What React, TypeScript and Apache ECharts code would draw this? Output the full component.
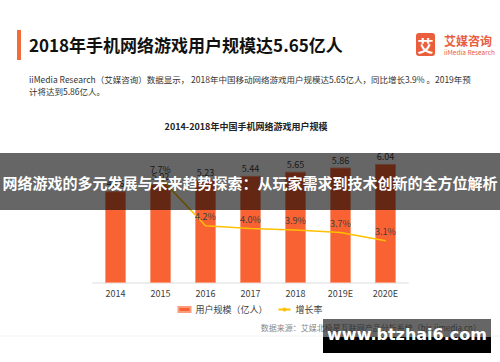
import React, { useEffect, useRef } from "react";
import * as echarts from "echarts";

const years = ["2014", "2015", "2016", "2017", "2018", "2019E", "2020E"];
const users = [4.66, 5.02, 5.23, 5.44, 5.65, 5.86, 6.04];
const growth = [null, 7.7, 4.2, 4.0, 3.9, 3.7, 3.1];
const growthLabels = ["", "7.7%", "4.2%", "4.0%", "3.9%", "3.7%", "3.1%"];

const FONT = "'Noto Sans CJK SC', 'Noto Sans', sans-serif";

export default function App() {
  const ref = useRef<HTMLDivElement>(null);
  useEffect(() => {
    if (!ref.current) return;
    const chart = echarts.init(ref.current, null, { renderer: "svg" });
    chart.setOption({
      animation: false,
      backgroundColor: "#ffffff",
      textStyle: { fontFamily: FONT },
      grid: { left: 93, right: 92, top: 140, bottom: 79 },
      legend: {
        top: 300,
        left: "center",
        itemWidth: 12,
        itemHeight: 5,
        itemGap: 10,
        textStyle: { fontSize: 9, color: "#404040", fontFamily: FONT },
        data: [
          { name: "用户规模（亿人）", icon: "rect" },
          { name: "增长率" },
        ],
      },
      xAxis: {
        type: "category",
        data: years,
        axisLine: { lineStyle: { color: "#eeeeee", width: 2 } },
        axisTick: { show: false },
        axisLabel: { fontSize: 9, color: "#404040", margin: 6, fontFamily: FONT },
      },
      yAxis: [
        { type: "value", min: 0, max: 7.26, show: false, splitLine: { show: false } },
        { type: "value", min: 0, max: 10.5, show: false, splitLine: { show: false } },
      ],
      series: [
        {
          name: "用户规模（亿人）",
          type: "bar",
          data: users,
          barWidth: 21,
          itemStyle: { color: "#F96232", borderColor: "#FA9B7C", borderWidth: 1 },
          label: {
            show: true,
            position: "top",
            distance: 3,
            fontSize: 9,
            color: "#404040",
            formatter: (p: any) => p.value.toFixed(2),
          },
        },
        {
          name: "增长率",
          type: "line",
          yAxisIndex: 1,
          data: growth,
          symbol: "circle",
          symbolSize: 1,
          showSymbol: true,
          lineStyle: { color: "#FFC000", width: 1.5 },
          itemStyle: { color: "#FFC000" },
          label: {
            show: true,
            position: "top",
            distance: 4,
            fontSize: 9,
            color: "#404040",
            formatter: (p: any) => growthLabels[p.dataIndex],
          },
        },
      ],
      graphic: [
        { type: "rect", shape: { x: 17, y: 30, width: 4, height: 30 }, style: { fill: "#F26B3A" } },
        {
          type: "text",
          x: 29,
          y: 44,
          style: {
            text: "2018年手机网络游戏用户规模达5.65亿人",
            fontSize: 17,
            fontWeight: "bold",
            fill: "#111111",
            fontFamily: FONT,
            textVerticalAlign: "middle",
          },
        },
        { type: "rect", shape: { x: 416, y: 33, width: 19, height: 23, r: 3 }, style: { fill: "#E95E3C" } },
        {
          type: "text",
          x: 425.5,
          y: 45,
          style: {
            text: "艾",
            fontSize: 16,
            fontWeight: "bold",
            fill: "#ffffff",
            fontFamily: FONT,
            textAlign: "center",
            textVerticalAlign: "middle",
          },
        },
        {
          type: "text",
          x: 444,
          y: 40,
          style: {
            text: "艾媒咨询",
            fontSize: 12,
            fontWeight: "bold",
            fill: "#E95E3C",
            fontFamily: FONT,
            textVerticalAlign: "middle",
          },
        },
        {
          type: "text",
          x: 444,
          y: 52,
          style: {
            text: "iiMedia Research",
            fontSize: 6.5,
            fill: "#E95E3C",
            fontFamily: FONT,
            textVerticalAlign: "middle",
          },
        },
        {
          type: "text",
          x: 29,
          y: 79,
          style: {
            text: "iiMedia Research（艾媒咨询）数据显示， 2018年中国移动网络游戏用户规模达5.65亿人，同比增长3.9% 。2019年预",
            fontSize: 8.5,
            fill: "#333333",
            fontFamily: FONT,
            textVerticalAlign: "middle",
          },
        },
        {
          type: "text",
          x: 29,
          y: 91,
          style: {
            text: "计将达到5.86亿人。",
            fontSize: 8.5,
            fill: "#333333",
            fontFamily: FONT,
            textVerticalAlign: "middle",
          },
        },
        {
          type: "text",
          x: 246,
          y: 126,
          style: {
            text: "2014-2018年中国手机网络游戏用户规模",
            fontSize: 9,
            fontWeight: "bold",
            fill: "#222222",
            fontFamily: FONT,
            textAlign: "center",
            textVerticalAlign: "middle",
          },
        },
        { type: "rect", shape: { x: 0, y: 335.5, width: 500, height: 1 }, style: { fill: "#f3f3f3" } },
        {
          type: "text",
          x: 481,
          y: 327,
          style: {
            text: "数据来源：艾媒北极星互联网产品分析系统（bjx.iimedia.cn）",
            fontSize: 8,
            fill: "#888888",
            fontFamily: FONT,
            textAlign: "right",
            textVerticalAlign: "middle",
          },
        },
        {
          type: "rect",
          z: 100,
          shape: { x: 0, y: 153, width: 500, height: 57 },
          style: { fill: "rgba(0,0,0,0.6)" },
        },
        {
          type: "text",
          z: 101,
          x: 250,
          y: 182,
          style: {
            text: "网络游戏的多元发展与未来趋势探索：从玩家需求到技术创新的全方位解析",
            fontSize: 15,
            fontWeight: "bold",
            fill: "#ffffff",
            fontFamily: FONT,
            textAlign: "center",
            textVerticalAlign: "middle",
          },
        },
        {
          type: "rect",
          z: 100,
          shape: { x: 323, y: 319, width: 168, height: 18 },
          style: { fill: "rgba(0,0,0,0.6)" },
        },
        {
          type: "rect",
          z: 100,
          shape: { x: 323, y: 337, width: 168, height: 16 },
          style: { fill: "#000000" },
        },
        {
          type: "text",
          z: 101,
          x: 407,
          y: 334,
          style: {
            text: "www.btzhai6.com",
            fontSize: 16,
            fontWeight: "bold",
            fill: "#ffffff",
            fontFamily: "'DejaVu Sans', sans-serif",
            textAlign: "center",
            textVerticalAlign: "middle",
          },
        },
      ],
    });
    return () => chart.dispose();
  }, []);
  return <div ref={ref} style={{ width: 500, height: 362, position: "absolute", left: 0, top: 0 }} />;
}
